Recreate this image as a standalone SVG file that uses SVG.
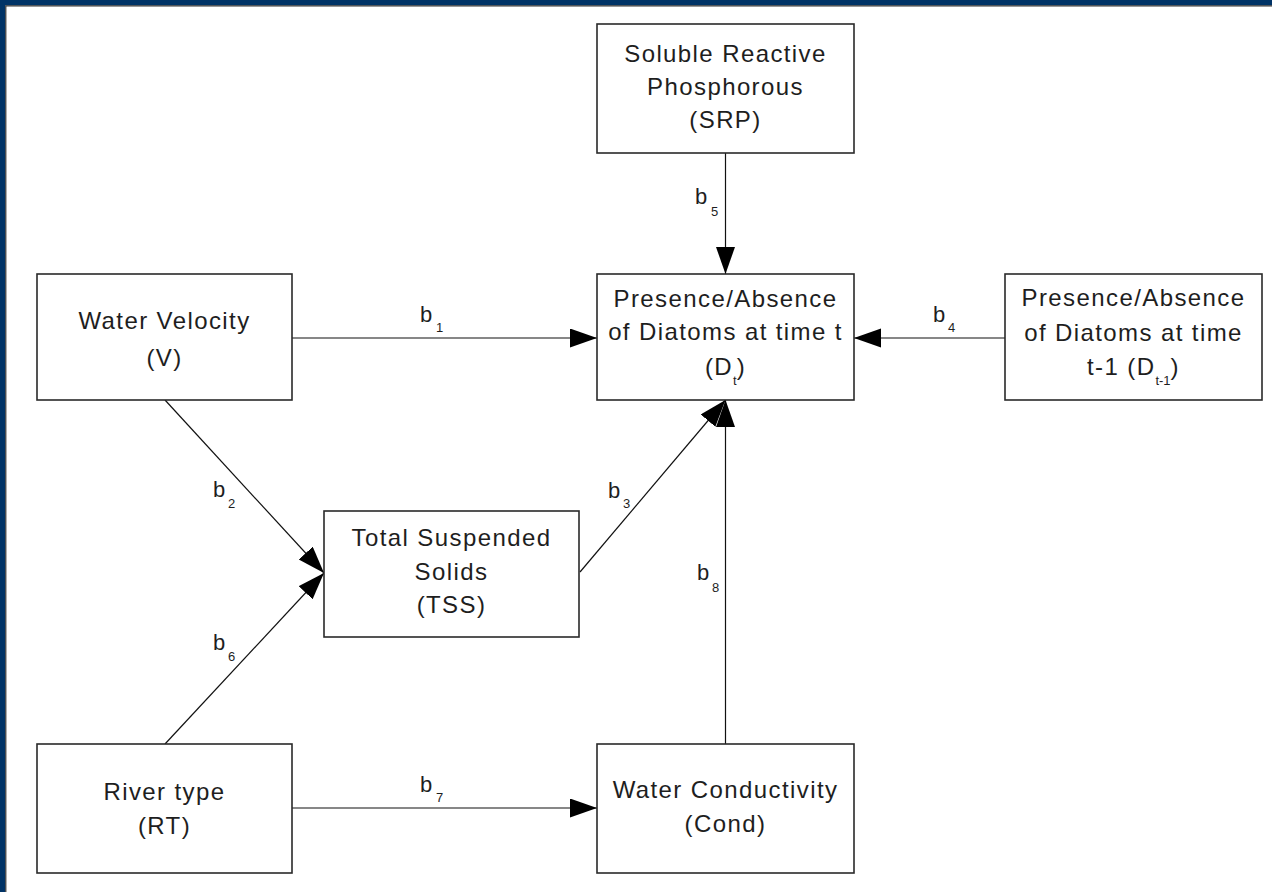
<svg xmlns="http://www.w3.org/2000/svg" width="1272" height="892" viewBox="0 0 1272 892">
<style>
.box{fill:#fff;stroke:#2a2a2a;stroke-width:1.6}
.t{font-family:"Liberation Sans",Arial,sans-serif;font-size:24px;letter-spacing:1.4px;fill:#1e1e1e;text-anchor:middle}
.sub{font-size:13px;letter-spacing:0}
.lbl{font-family:"Liberation Sans",Arial,sans-serif;font-size:22px;fill:#1e1e1e}
.ls{font-family:"Liberation Sans",Arial,sans-serif;font-size:13px;fill:#1e1e1e}
.c{stroke:#111;stroke-width:1.2;fill:none;marker-end:url(#ah)}
</style>
<defs>
<marker id="ah" markerUnits="userSpaceOnUse" markerWidth="28" markerHeight="20" refX="27" refY="9.5" orient="auto">
<path d="M0,0 L27,9.5 L0,19 z" fill="#000"/>
</marker>
</defs>
<rect x="0" y="0" width="1272" height="892" fill="#fff"/>
<g id="frame">
<rect x="0" y="0" width="1272" height="5.3" fill="#003366"/>
<rect x="0" y="0" width="5.3" height="892" fill="#003366"/>
<path d="M5.8,892 V5.8 H1272" stroke="#333" stroke-width="1.2" fill="none"/>
</g>
<g id="connectors">
<line class="c" x1="292" y1="338" x2="597" y2="338"/>
<line class="c" x1="1005" y1="338" x2="854" y2="338"/>
<line class="c" x1="725.5" y1="153" x2="725.5" y2="274"/>
<line class="c" x1="580" y1="572" x2="725.5" y2="400"/>
<line class="c" x1="725.5" y1="744" x2="725.5" y2="400"/>
<line class="c" x1="165" y1="400" x2="324" y2="573"/>
<line class="c" x1="165" y1="744" x2="324" y2="573"/>
<line class="c" x1="292" y1="808" x2="597" y2="808"/>
<text class="lbl" x="420" y="322">b</text><text class="ls" x="436" y="332">1</text>
<text class="lbl" x="213" y="497">b</text><text class="ls" x="228" y="508">2</text>
<text class="lbl" x="608" y="498">b</text><text class="ls" x="623" y="508">3</text>
<text class="lbl" x="933" y="322">b</text><text class="ls" x="948" y="332">4</text>
<text class="lbl" x="695" y="204">b</text><text class="ls" x="711" y="216">5</text>
<text class="lbl" x="213" y="650">b</text><text class="ls" x="228" y="661">6</text>
<text class="lbl" x="420" y="792">b</text><text class="ls" x="436" y="802">7</text>
<text class="lbl" x="697" y="580">b</text><text class="ls" x="712" y="592">8</text>
</g>
<g id="srp">
<rect class="box" x="597" y="24" width="257" height="129"/>
<text class="t" x="725.5" y="62">Soluble Reactive</text>
<text class="t" x="725.5" y="95">Phosphorous</text>
<text class="t" x="725.5" y="128">(SRP)</text>
</g>
<g id="dt">
<rect class="box" x="597" y="274" width="257" height="126"/>
<text class="t" x="725.5" y="307">Presence/Absence</text>
<text class="t" x="725.5" y="340">of Diatoms at time t</text>
<text class="t" x="725.5" y="375">(D<tspan class="sub" dy="10">t</tspan><tspan dy="-10">)</tspan></text>
</g>
<g id="dt1">
<rect class="box" x="1005" y="274" width="257" height="126"/>
<text class="t" x="1133.5" y="306">Presence/Absence</text>
<text class="t" x="1133.5" y="341">of Diatoms at time</text>
<text class="t" x="1133.5" y="375">t-1 (D<tspan class="sub" dy="10">t-1</tspan><tspan dy="-10">)</tspan></text>
</g>
<g id="v">
<rect class="box" x="37" y="274" width="255" height="126"/>
<text class="t" x="164.5" y="329">Water Velocity</text>
<text class="t" x="164.5" y="366">(V)</text>
</g>
<g id="tss">
<rect class="box" x="324" y="511" width="255" height="126"/>
<text class="t" x="451.5" y="546">Total Suspended</text>
<text class="t" x="451.5" y="580">Solids</text>
<text class="t" x="451.5" y="613">(TSS)</text>
</g>
<g id="rt">
<rect class="box" x="37" y="744" width="255" height="129"/>
<text class="t" x="164.5" y="800">River type</text>
<text class="t" x="164.5" y="834">(RT)</text>
</g>
<g id="cond">
<rect class="box" x="597" y="744" width="257" height="129"/>
<text class="t" x="725.5" y="798">Water Conductivity</text>
<text class="t" x="725.5" y="832">(Cond)</text>
</g>
</svg>
